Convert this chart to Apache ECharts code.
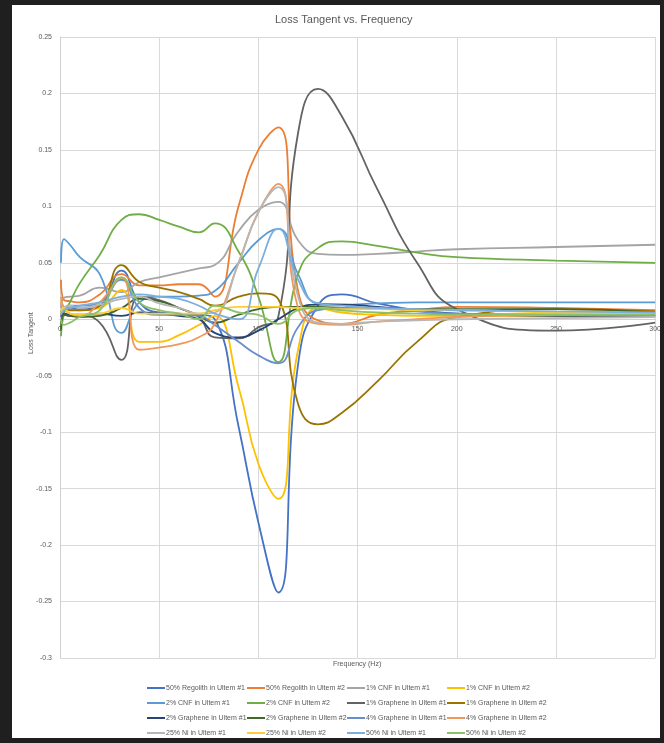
<!DOCTYPE html>
<html>
<head>
<meta charset="utf-8">
<script src="https://cdn.jsdelivr.net/npm/echarts@6/dist/echarts.min.js"></script>
<style>
  html, body { margin: 0; padding: 0; background: #1f1f1f; }
  #panel { position: absolute; left: 12px; top: 5px; width: 648px; height: 733px; background: #ffffff; }
  #chart { position: absolute; left: 0; top: 0; width: 664px; height: 743px; }
  #edge { position: absolute; left: 660px; top: 0; width: 4px; height: 743px; background: #1f1f1f; }
</style>
</head>
<body>
<div id="panel"></div>
<div id="chart"></div>
<div id="edge"></div>
<script>
// Measurement frequencies (Hz)
const freq = [0.5, 2, 5, 10, 20, 31, 40, 50, 60, 70, 78, 90, 100, 110, 120, 130, 142, 160, 180, 200, 250, 300];

// Loss tangent per sample
const regolith50_1 = [0.002, 0.008, 0.01, 0.009, 0.012, 0.043, 0.015, 0.006, 0.005, 0.004, 0.0, -0.095, -0.18, -0.242, -0.04, 0.012, 0.022, 0.014, 0.008, 0.004, 0.004, 0.004];
const regolith50_2 = [0.035, 0.017, 0.016, 0.015, 0.022, 0.04, 0.03, 0.03, 0.031, 0.031, 0.02, 0.1, 0.15, 0.17, 0.025, -0.001, -0.004, 0.004, 0.008, 0.011, 0.01, 0.008];
const cnf1_1 = [0.01, 0.019, 0.02, 0.021, 0.028, 0.024, 0.033, 0.037, 0.041, 0.045, 0.048, 0.078, 0.097, 0.104, 0.07, 0.058, 0.057, 0.058, 0.06, 0.062, 0.064, 0.066];
const cnf1_2 = [0.017, 0.011, 0.009, 0.008, 0.01, 0.026, -0.02, -0.02, -0.014, -0.005, 0.003, -0.06, -0.128, -0.159, -0.027, 0.01, 0.006, 0.004, 0.003, 0.003, 0.003, 0.003];
const cnf2_1 = [0.05, 0.071, 0.066, 0.055, 0.04, -0.012, 0.015, 0.02, 0.02, 0.021, 0.025, 0.05, 0.07, 0.08, 0.04, 0.014, 0.013, 0.014, 0.015, 0.015, 0.015, 0.015];
const cnf2_2 = [-0.015, 0.005, 0.015, 0.032, 0.057, 0.088, 0.093, 0.088, 0.082, 0.077, 0.085, 0.06, 0.02, -0.038, 0.04, 0.063, 0.069, 0.065, 0.059, 0.055, 0.052, 0.05];
const graphene1_1 = [0.003, 0.004, 0.003, 0.003, -0.003, -0.036, 0.02, 0.017, 0.01, 0.002, -0.016, -0.017, -0.007, 0.002, 0.165, 0.204, 0.18, 0.115, 0.05, 0.009, -0.01, -0.003];
const graphene1_2 = [0.005, 0.01, 0.008, 0.008, 0.012, 0.048, 0.033, 0.028, 0.024, 0.018, 0.012, 0.02, 0.023, 0.018, -0.075, -0.093, -0.083, -0.055, -0.02, 0.002, 0.009, 0.007];
const graphene2_1 = [0.004, 0.005, 0.004, 0.004, 0.005, 0.003, 0.006, 0.005, 0.003, 0.0, -0.012, -0.016, -0.01, 0.0, 0.01, 0.013, 0.013, 0.011, 0.008, 0.005, 0.003, 0.003];
const graphene2_2 = [-0.01, 0.004, 0.003, 0.002, 0.003, 0.01, 0.018, 0.016, 0.01, 0.003, -0.003, 0.004, 0.009, 0.011, 0.011, 0.011, 0.01, 0.009, 0.009, 0.009, 0.009, 0.006];
const graphene4_1 = [0.005, 0.01, 0.012, 0.012, 0.015, 0.035, 0.01, 0.004, 0.004, 0.003, -0.005, -0.02, -0.032, -0.039, -0.007, 0.008, 0.01, 0.01, 0.007, 0.005, 0.004, 0.004];
const graphene4_2 = [0.02, 0.01, 0.005, 0.003, 0.015, 0.037, -0.027, -0.025, -0.022, -0.016, -0.004, 0.05, 0.095, 0.12, 0.01, -0.004, -0.005, -0.002, 0.0, 0.002, 0.004, 0.005];
const ni25_1 = [0.005, 0.01, 0.012, 0.01, 0.013, 0.018, 0.02, 0.014, 0.01, 0.005, 0.006, 0.05, 0.095, 0.117, 0.02, -0.003, -0.004, -0.002, -0.001, 0.0, 0.001, 0.002];
const ni25_2 = [0.005, 0.01, 0.005, 0.004, 0.005, 0.01, 0.005, 0.005, 0.005, 0.005, 0.008, 0.011, 0.011, 0.011, 0.01, 0.01, 0.009, 0.009, 0.008, 0.008, 0.006, 0.005];
const ni50_1 = [0.004, 0.008, 0.01, 0.012, 0.015, 0.02, 0.022, 0.02, 0.018, 0.012, 0.005, 0.0, 0.045, 0.08, 0.035, 0.014, 0.012, 0.01, 0.009, 0.008, 0.007, 0.006];
const ni50_2 = [0.0, -0.005, -0.003, 0.002, 0.008, 0.037, 0.015, 0.008, 0.005, 0.0, 0.012, 0.006, 0.004, -0.004, 0.008, 0.01, 0.008, 0.006, 0.005, 0.004, 0.004, 0.004];

const seriesNames = [
  '50% Regolith in Ultem #1', '50% Regolith in Ultem #2', '1% CNF in Ultem #1', '1% CNF in Ultem #2',
  '2% CNF in Ultem #1', '2% CNF in Ultem #2', '1% Graphene in Ultem #1', '1% Graphene in Ultem #2',
  '2% Graphene in Ultem #1', '2% Graphene in Ultem #2', '4% Graphene in Ultem #1', '4% Graphene in Ultem #2',
  '25% Ni in Ultem #1', '25% Ni in Ultem #2', '50% Ni in Ultem #1', '50% Ni in Ultem #2'
];
const seriesValues = [
  regolith50_1, regolith50_2, cnf1_1, cnf1_2, cnf2_1, cnf2_2, graphene1_1, graphene1_2,
  graphene2_1, graphene2_2, graphene4_1, graphene4_2, ni25_1, ni25_2, ni50_1, ni50_2
];
const xTicks = [0, 50, 100, 150, 200, 250, 300];
const yRange = [-0.3, 0.25];

const palette = [
  '#4472C4', '#ED7D31', '#A5A5A5', '#FFC000', '#5B9BD5', '#70AD47',
  '#636363', '#997300', '#264478', '#43682B', '#698ED0', '#F1975A',
  '#B7B7B7', '#FFCD33', '#7CAFDD', '#8CC168'
];

const textColor = '#595959';
const fontFamily = 'Liberation Sans, Arial, sans-serif';

const W = 664, H = 743;
const grid = { left: 60, right: 4, top: 37, bottom: 85 };
// the frequency axis crosses the value axis at zero
const plotH = H - grid.top - grid.bottom;
const zeroOffset = -plotH * (0 - yRange[0]) / (yRange[1] - yRange[0]);

const series = seriesNames.map((name, k) => ({
  name: name,
  type: 'line',
  smooth: true,
  showSymbol: false,
  symbol: 'none',
  lineStyle: { width: 1.8, color: palette[k] },
  itemStyle: { color: palette[k] },
  data: freq.map((f, i) => [f, seriesValues[k][i]])
}));

// four legend columns, four entries each (row-major order)
const legendCols = [0, 1, 2, 3].map(c => ({
  orient: 'vertical',
  left: [147, 247, 347, 447][c],
  top: 683,
  itemWidth: 18,
  itemHeight: 2,
  itemGap: 5,
  icon: 'rect',
  padding: 0,
  textStyle: { fontSize: 7, color: textColor, fontFamily: fontFamily, lineHeight: 10, padding: [0, 0, 0, -4] },
  data: [0, 1, 2, 3].map(r => seriesNames[r * 4 + c])
}));

const chart = echarts.init(document.getElementById('chart'), null, { renderer: 'canvas' });
chart.setOption({
  backgroundColor: 'transparent',
  animation: false,
  color: palette,
  title: {
    text: 'Loss Tangent vs. Frequency',
    left: 270,
    top: 9,
    textStyle: { fontSize: 11, fontWeight: 'normal', color: textColor, fontFamily: fontFamily }
  },
  legend: legendCols,
  grid: Object.assign({ containLabel: false }, grid),
  xAxis: {
    type: 'value',
    position: 'bottom',
    offset: zeroOffset,
    min: xTicks[0],
    max: xTicks[xTicks.length - 1],
    interval: 50,
    axisLine: { show: true, onZero: false, lineStyle: { color: '#d0d0d0', width: 1 } },
    axisTick: { show: false },
    axisLabel: { fontSize: 7, color: textColor, fontFamily: fontFamily, margin: 6, showMaxLabel: true },
    splitLine: { show: true, lineStyle: { color: '#d9d9d9', width: 1 } }
  },
  yAxis: {
    type: 'value',
    min: yRange[0],
    max: yRange[1],
    interval: 0.05,
    axisLine: { show: true, onZero: false, lineStyle: { color: '#d0d0d0', width: 1 } },
    axisTick: { show: false },
    axisLabel: {
      fontSize: 7, color: textColor, fontFamily: fontFamily, margin: 8,
      formatter: v => String(Math.round(v * 100) / 100)
    },
    splitLine: { show: true, lineStyle: { color: '#d9d9d9', width: 1 } }
  },
  graphic: [
    {
      type: 'text',
      left: 333, top: 661,
      style: { text: 'Frequency (Hz)', fontSize: 7, fill: textColor, fontFamily: fontFamily }
    },
    {
      type: 'text',
      x: 28, y: 354,
      rotation: Math.PI / 2,
      style: { text: 'Loss Tangent', fontSize: 7, fill: textColor, fontFamily: fontFamily }
    }
  ],
  series: series
});
</script>
</body>
</html>
